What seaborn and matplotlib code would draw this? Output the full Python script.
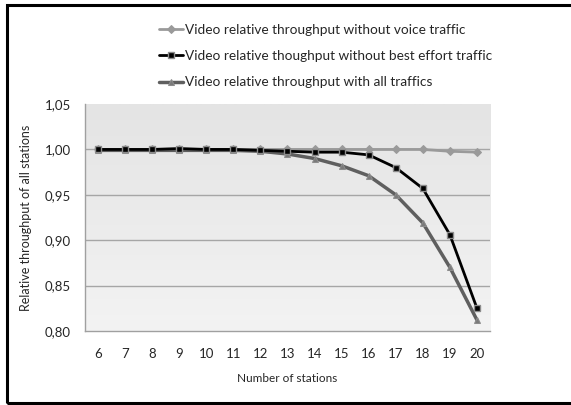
import matplotlib
matplotlib.use('Agg')
import matplotlib.pyplot as plt
from matplotlib.patches import Rectangle
import numpy as np
import pandas as pd
import seaborn as sns

# data
stations = list(range(6, 21))
no_voice = [1.000, 1.000, 1.000, 1.000, 1.000, 1.000, 1.000, 1.000, 1.000,
            1.000, 1.000, 1.000, 1.000, 0.998, 0.997]
no_best_effort = [1.000, 1.000, 1.000, 1.001, 1.000, 1.000, 0.999, 0.998, 0.997,
                  0.997, 0.994, 0.980, 0.957, 0.906, 0.825]
all_traffic = [0.999, 0.999, 0.999, 0.999, 0.999, 0.999, 0.998, 0.995, 0.990,
               0.982, 0.971, 0.950, 0.919, 0.870, 0.812]

labels = ['Video relative throughput without voice traffic',
          'Video relative thoughput without best effort traffic',
          'Video relative throughput with all traffics']
y_ticks = [0.80, 0.85, 0.90, 0.95, 1.00, 1.05]

sns.set_style('white')
plt.rcParams['font.family'] = ['Lato', 'DejaVu Sans']
plt.rcParams['font.size'] = 8.5

fig = plt.figure(figsize=(5.71, 4.05), dpi=100)
ax = fig.add_axes([0.148, 0.183, 0.711, 0.560])

# soft gradient background like the original
grad = np.linspace(0, 1, 100).reshape(-1, 1)
ax.imshow(grad, extent=[5.5, 20.5, 0.80, 1.05], aspect='auto',
          cmap=matplotlib.colors.LinearSegmentedColormap.from_list('g', ['#f3f3f3', '#e4e4e4']),
          origin='lower', zorder=0)

for v in [0.85, 0.90, 0.95, 1.00]:
    ax.axhline(v, color='#a6a6a6', lw=1, zorder=1)

sns.lineplot(x=stations, y=no_voice, ax=ax, color='#9a9a9a', lw=2, marker='D',
             markersize=4, markeredgecolor='#9a9a9a', label=labels[0], zorder=3)
sns.lineplot(x=stations, y=no_best_effort, ax=ax, color='black', lw=2, marker='s',
             markersize=5, markerfacecolor='black', markeredgecolor='#8c8c8c',
             markeredgewidth=1, label=labels[1], zorder=4)
sns.lineplot(x=stations, y=all_traffic, ax=ax, color='#5f5f5f', lw=2.5, marker='^',
             markersize=5, markerfacecolor='#7a7a7a', markeredgecolor='#8c8c8c',
             label=labels[2], zorder=3)

ax.set_xlim(5.5, 20.5)
ax.set_ylim(0.80, 1.05)
ax.set_xticks(stations)
ax.set_yticks(y_ticks)
ax.set_yticklabels([f'{v:.2f}'.replace('.', ',') for v in y_ticks])
ax.tick_params(axis='both', length=0, pad=12, labelsize=9.5)
ax.tick_params(axis='y', pad=10)
ax.set_xlabel('Number of stations', fontsize=8.5, labelpad=10)
ax.set_ylabel('Relative throughput of all stations', fontsize=9, labelpad=9)

for side in ['top', 'right']:
    ax.spines[side].set_visible(False)
for side in ['left', 'bottom']:
    ax.spines[side].set_color('#a0a0a0')
    ax.spines[side].set_linewidth(1)

leg = ax.legend(loc='lower left', bbox_to_anchor=(0.17, 1.045), frameon=False,
                fontsize=9.8, handlelength=1.8, handletextpad=0.1, labelspacing=1.05,
                borderaxespad=0)

# frame around whole picture
fig.patches.append(Rectangle((7 / 571, 2 / 405), 1.5, 398 / 405, transform=fig.transFigure,
                             fill=False, edgecolor='black', lw=2.2))

fig.savefig('out.png', dpi=100)
